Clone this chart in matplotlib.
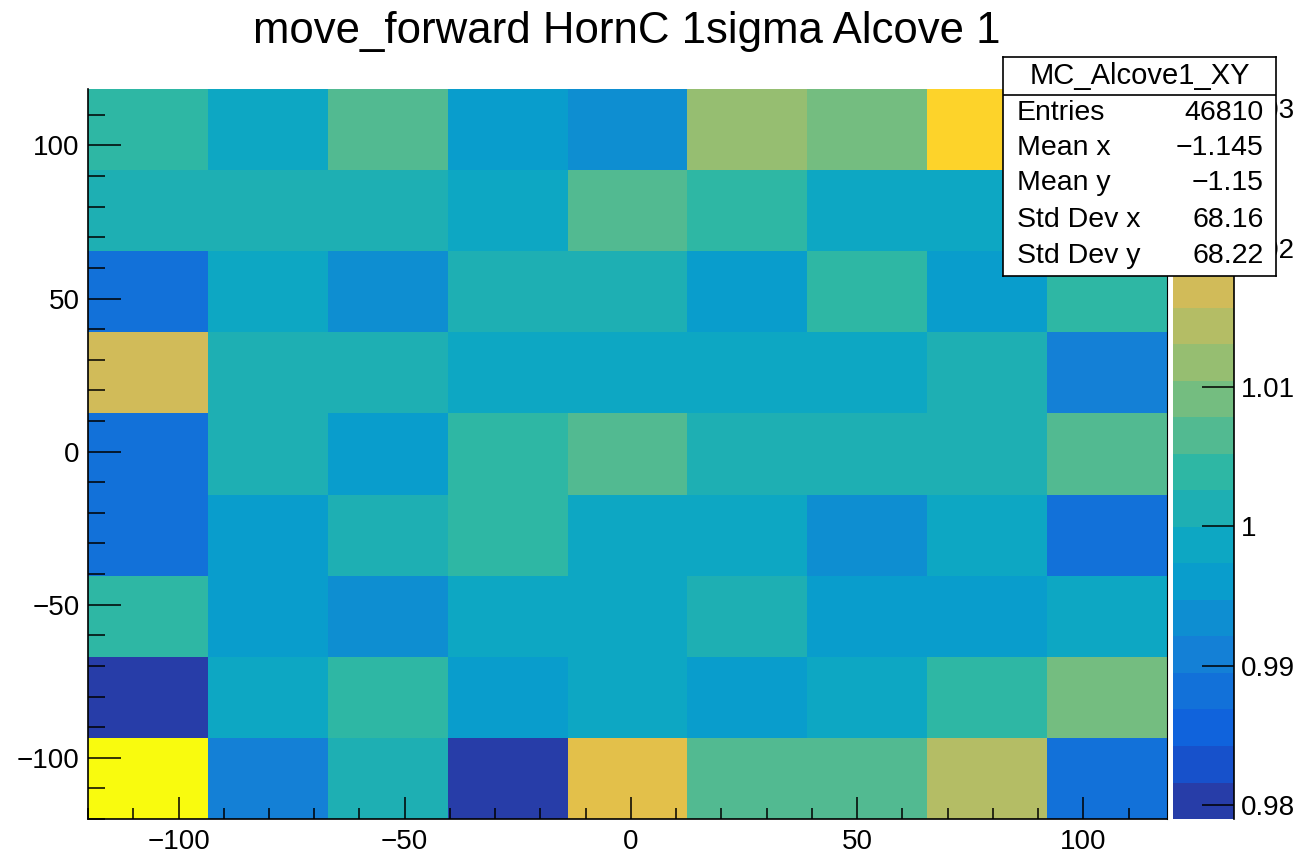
import numpy as np
import matplotlib
matplotlib.use("Agg")
import matplotlib.pyplot as plt
from matplotlib.colors import ListedColormap, LinearSegmentedColormap, BoundaryNorm
from matplotlib.ticker import MultipleLocator, FixedLocator

plt.rcParams['font.family'] = ['Liberation Sans', 'DejaVu Sans']

# bin edges of the 9x9 histogram
x_edges = np.linspace(-120.0, 118.5, 10)
y_edges = np.linspace(-120.0, 118.5, 10)

# bin contents, rows from bottom (y ~ -105) to top (y ~ 105)
row0 = [1.0314, 0.9908, 1.0013, 0.9801, 1.0196, 1.0065, 1.0065, 1.0144, 0.9882]
row1 = [0.9790, 0.9987, 1.0039, 0.9960, 0.9987, 0.9960, 0.9987, 1.0039, 1.0092]
row2 = [1.0039, 0.9960, 0.9934, 0.9987, 0.9987, 1.0013, 0.9960, 0.9960, 0.9987]
row3 = [0.9882, 0.9960, 1.0013, 1.0039, 0.9987, 0.9987, 0.9934, 0.9987, 0.9882]
row4 = [0.9882, 1.0013, 0.9960, 1.0039, 1.0065, 1.0013, 1.0013, 1.0013, 1.0065]
row5 = [1.0170, 1.0013, 1.0013, 0.9987, 0.9987, 0.9987, 0.9987, 1.0013, 0.9908]
row6 = [0.9882, 0.9987, 0.9934, 1.0013, 1.0013, 0.9960, 1.0039, 0.9960, 1.0039]
row7 = [1.0013, 1.0013, 1.0013, 0.9987, 1.0065, 1.0039, 0.9987, 0.9987, 1.0013]
row8 = [1.0039, 0.9987, 1.0065, 0.9960, 0.9934, 1.0118, 1.0092, 1.0249, 1.0039]

stat_names = ["Entries", "Mean x", "Mean y", "Std Dev x", "Std Dev y"]
stat_values = ["46810", "\u22121.145", "\u22121.15", "68.16", "68.22"]
hist_name = "MC_Alcove1_XY"
title = "move_forward HornC 1sigma Alcove 1"

z = np.array([row0, row1, row2, row3, row4, row5, row6, row7, row8])

# ROOT kBird palette
stops = np.linspace(0, 1, 9)
red = [0.2082, 0.0592, 0.0780, 0.0232, 0.1802, 0.5301, 0.8186, 0.9956, 0.9764]
green = [0.1664, 0.3599, 0.5041, 0.6419, 0.7178, 0.7492, 0.7328, 0.7862, 0.9832]
blue = [0.5293, 0.8684, 0.8385, 0.7914, 0.6425, 0.4662, 0.3499, 0.1968, 0.0539]
bird = LinearSegmentedColormap.from_list(
    "bird", [(s, (r, g, b)) for s, r, g, b in zip(stops, red, green, blue)], N=255)
ncont = 20
idx = [min(int((i + 0.99) * 255 / ncont), 254) for i in range(ncont)]
cmap = ListedColormap([bird(i / 254) for i in idx])
levels = np.linspace(z.min(), z.max(), ncont + 1)
norm = BoundaryNorm(levels, ncont)

fig = plt.figure(figsize=(13.04, 8.56), dpi=100)
ax = fig.add_axes([0.0675, 0.0432, 0.8275, 0.853])
mesh = ax.pcolormesh(x_edges, y_edges, z, cmap=cmap, norm=norm)
ax.set_xlim(x_edges[0], x_edges[-1])
ax.set_ylim(y_edges[0], y_edges[-1])

ax.xaxis.set_major_locator(FixedLocator([-100, -50, 0, 50, 100]))
ax.yaxis.set_major_locator(FixedLocator([-100, -50, 0, 50, 100]))
ax.xaxis.set_minor_locator(MultipleLocator(10))
ax.yaxis.set_minor_locator(MultipleLocator(10))
ax.tick_params(axis='x', which='major', direction='in', length=16, width=1.1, labelsize=20, pad=7)
ax.tick_params(axis='x', which='minor', direction='in', length=8, width=1.1)
ax.tick_params(axis='y', which='major', direction='in', length=24, width=1.1, labelsize=20, pad=6)
ax.tick_params(axis='y', which='minor', direction='in', length=12, width=1.1)
ax.spines['top'].set_visible(False)
ax.spines['right'].set_linewidth(0.8)
ax.spines['left'].set_linewidth(1.2)
ax.spines['bottom'].set_linewidth(1.2)
fmt = lambda v, p: f"{v:g}".replace("-", "\u2212")
ax.xaxis.set_major_formatter(fmt)
ax.yaxis.set_major_formatter(fmt)

fig.text(0.481, 0.963, title, ha='center', va='center', fontsize=31.5)

cax = fig.add_axes([0.8995, 0.0432, 0.0468, 0.853])
cb = fig.colorbar(mesh, cax=cax)
cb.outline.set_visible(False)
cax.spines['right'].set_visible(True)
cax.spines['right'].set_linewidth(1.2)
cb.set_ticks([0.98, 0.99, 1.0, 1.01, 1.02, 1.03])
cb.set_ticklabels(["0.98", "0.99", "1", "1.01", "1.02", "1.03"])
cax.tick_params(axis='y', which='major', direction='in', length=23, width=1.1, labelsize=20, pad=5)
cax.minorticks_off()

# stats box
sax = fig.add_axes([0.7692, 0.6776, 0.2094, 0.2558])
sax.set_xticks([])
sax.set_yticks([])
sax.set_xlim(0, 1)
sax.set_ylim(0, 1)
for sp in sax.spines.values():
    sp.set_linewidth(1.2)
sax.axhline(0.826, color='black', lw=1.2)
sax.text(0.5, 0.915, hist_name, ha='center', va='center', fontsize=21)
row_y = [0.744, 0.584, 0.425, 0.256, 0.091]
for name, val, yy in zip(stat_names, stat_values, row_y):
    sax.text(0.05, yy, name, ha='left', va='center', fontsize=20.5)
    sax.text(0.955, yy, val, ha='right', va='center', fontsize=20.5)

fig.savefig("out.png", dpi=100)
